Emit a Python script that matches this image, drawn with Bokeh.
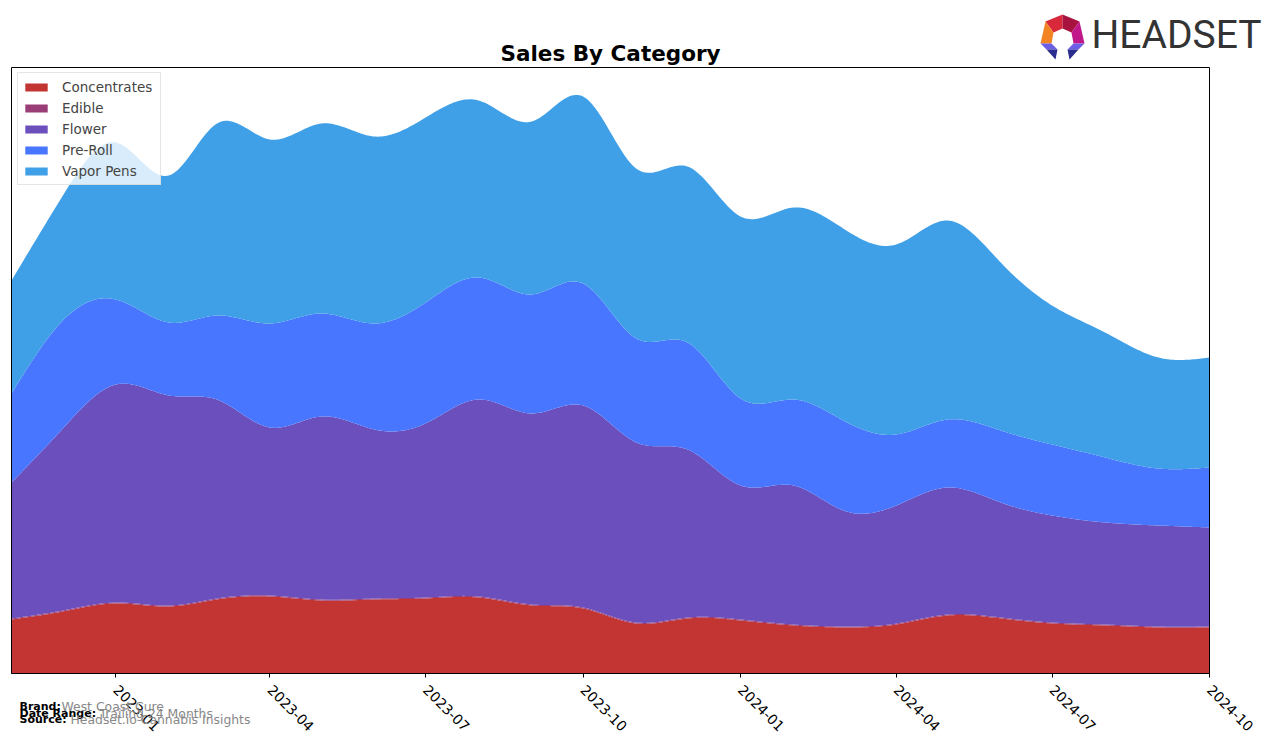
import numpy as np
import pandas as pd
from bokeh.plotting import figure
from bokeh.models import Range1d, Label, PolyAnnotation, FixedTicker, DatetimeTickFormatter, ColumnDataSource
from bokeh.embed import file_html
from bokeh.resources import INLINE

# ---------------- data (monthly, relative sales units) ----------------
months = ["2022-11", "2022-12", "2023-01", "2023-02", "2023-03", "2023-04",
          "2023-05", "2023-06", "2023-07", "2023-08", "2023-09", "2023-10",
          "2023-11", "2023-12", "2024-01", "2024-02", "2024-03", "2024-04",
          "2024-05", "2024-06", "2024-07", "2024-08", "2024-09", "2024-10"]
concentrates = [54, 62, 70, 67, 74, 77, 73, 74, 75, 76, 68, 65,
                50, 55, 53, 48, 46, 49, 58, 55, 50, 48, 46, 46]
edible = [1, 1, 1, 1, 1, 1, 1, 1, 1, 1, 1, 1,
          1, 1, 1, 1, 1, 1, 1, 1, 1, 1, 1, 1]
flower = [136, 182, 218, 210, 199, 168, 183, 169, 174, 197, 191, 202,
          180, 168, 134, 139, 116, 118, 127, 115, 107, 102, 101, 99]
pre_roll = [89, 108, 85, 73, 84, 104, 103, 106, 121, 122, 119, 122,
            104, 107, 87, 86, 90, 71, 68, 72, 71, 65, 57, 60]
vapor_pens = [113, 125, 157, 147, 192, 184, 190, 187, 185, 177, 173, 187,
              170, 176, 182, 192, 192, 190, 199, 168, 139, 125, 111, 110]
categories = ["Concentrates", "Edible", "Flower", "Pre-Roll", "Vapor Pens"]
colors = ["#c23532", "#9a3d77", "#6a4fbd", "#4876fe", "#3fa0e8"]
tick_labels = ["2023-01", "2023-04", "2023-07", "2023-10",
               "2024-01", "2024-04", "2024-07", "2024-10"]

# ---------------- smooth rendering (natural cubic spline) ----------------
dates = pd.to_datetime(months, format="%Y-%m")
xd = np.array([(d - dates[0]).days for d in dates], dtype=float)


def spline(xs, ys, xf):
    ys = np.asarray(ys, dtype=float)
    n = len(xs)
    h = np.diff(xs)
    A = np.zeros((n, n))
    b = np.zeros(n)
    A[0, 0] = 1.0
    A[-1, -1] = 1.0
    for i in range(1, n - 1):
        A[i, i - 1] = h[i - 1]
        A[i, i] = 2 * (h[i - 1] + h[i])
        A[i, i + 1] = h[i]
        b[i] = 3 * ((ys[i + 1] - ys[i]) / h[i] - (ys[i] - ys[i - 1]) / h[i - 1])
    c = np.linalg.solve(A, b)
    out = np.empty_like(xf)
    for k, x in enumerate(xf):
        i = min(max(np.searchsorted(xs, x, side="right") - 1, 0), n - 2)
        dx = x - xs[i]
        bi = (ys[i + 1] - ys[i]) / h[i] - h[i] * (2 * c[i] + c[i + 1]) / 3
        di = (c[i + 1] - c[i]) / (3 * h[i])
        out[k] = ys[i] + bi * dx + c[i] * dx ** 2 + di * dx ** 3
    return np.clip(out, 0, None)


xf = np.linspace(xd[0], xd[-1], 600)
xf_dt = dates[0] + pd.to_timedelta(xf, unit="D")
series = [concentrates, edible, flower, pre_roll, vapor_pens]
smoothed = [spline(xd, s, xf) for s in series]

# ---------------- layout geometry (page pixels) ----------------
W, H = 1272, 740
FL, FR, FT, FB = 11, 1209, 67, 673          # visible chart box
x0_ms = dates[0].value / 1e6
x1_ms = dates[-1].value / 1e6
ms_per_px = (x1_ms - x0_ms) / (FR - FL)


def X(px):
    return x0_ms + (px - FL) * ms_per_px


def Y(py):
    return FB - py


p = figure(width=W, height=H, x_axis_type="datetime", y_axis_location=None,
           output_backend="svg", toolbar_location=None,
           x_range=Range1d(X(0), X(W)), y_range=Range1d(Y(H), Y(0)),
           min_border=0, min_border_left=0, min_border_right=0,
           min_border_top=0, min_border_bottom=0)
p.outline_line_color = None
p.xgrid.visible = False
p.ygrid.visible = False
p.background_fill_color = "white"
p.border_fill_color = "white"

lower = np.zeros_like(xf)
for name, col, sm in zip(categories, colors, smoothed):
    upper = lower + sm
    src = ColumnDataSource(dict(x=xf_dt, y1=lower, y2=upper))
    p.varea(x="x", y1="y1", y2="y2", source=src, fill_color=col, fill_alpha=1.0,
            legend_label=name)
    lower = upper

# chart box
p.quad(left=[x0_ms], right=[x1_ms], bottom=[0], top=[FB - FT],
       fill_color=None, line_color="black", line_width=1)

# x axis drawn at the bottom of the chart box
tick_ms = [pd.Timestamp(t + "-01").value / 1e6 for t in tick_labels]
ax = p.xaxis[0]
ax.fixed_location = 0
ax.bounds = (x0_ms, x1_ms)
ax.ticker = FixedTicker(ticks=tick_ms)
ax.formatter = DatetimeTickFormatter(days="%Y-%m", months="%Y-%m", years="%Y-%m")
ax.major_label_orientation = -np.pi / 4
ax.major_label_text_font = "DejaVu Sans"
ax.major_label_text_font_size = "14px"
ax.major_label_text_color = "black"
ax.major_tick_in = 0
ax.major_tick_out = 4
ax.minor_tick_line_color = None
ax.axis_line_color = "black"
ax.major_label_standoff = 10

# legend
lg = p.legend[0]
lg.location = (17, H - 185)
lg.margin = 0
lg.padding = 4
lg.spacing = 2
lg.label_height = 19
lg.label_width = 94
lg.glyph_height = 10
lg.glyph_width = 28
lg.label_standoff = 12
lg.label_text_font = "DejaVu Sans"
lg.label_text_font_size = "13.5px"
lg.border_line_color = "#cccccc"
lg.background_fill_alpha = 0.8

# title
p.add_layout(Label(x=X(610), y=Y(65), text="Sales By Category", text_align="center",
                   text_baseline="bottom",
                   text_font="DejaVu Sans", text_font_style="bold", text_font_size="21.5px",
                   text_color="black"))

# footer
for txt, xb, yb, xv, val in [("Brand:", 19, 712, 61, "West Coast Cure"),
                             ("Date Range:", 19, 719, 99, "Trailing 24 Months"),
                             ("Source:", 19, 725, 70, "Headset.io Cannabis Insights")]:
    p.add_layout(Label(x=X(xb), y=Y(yb), text=txt, text_font="DejaVu Sans",
                       text_baseline="bottom",
                       text_font_style="bold", text_font_size="11px", text_color="black"))
    p.add_layout(Label(x=X(xv), y=Y(yb + 1), text=val, text_font="DejaVu Sans",
                       text_baseline="bottom",
                       text_font_size="12.4px", text_color="#888888"))

# logo
p.add_layout(Label(x=X(1091), y=Y(57), text="HEADSET", text_font="Roboto",
                   text_baseline="bottom",
                   text_font_size="39px", text_color="#333333"))
logo_polys = [
    ([1045, 1062, 1062, 1053], [21, 14, 28, 32], "#d8283a"),
    ([1062, 1079, 1071, 1062], [14, 21, 32, 28], "#a8123e"),
    ([1045, 1053, 1051, 1040], [21, 32, 43, 43], "#f28424"),
    ([1079, 1084, 1073, 1071], [21, 43, 43, 32], "#c0178a"),
    ([1040, 1051, 1057, 1046], [43, 43, 49, 49], "#6c5fe6"),
    ([1046, 1057, 1055], [49, 49, 59], "#2a2d8e"),
    ([1084, 1073, 1067, 1078], [43, 43, 49, 49], "#6c5fe6"),
    ([1078, 1067, 1069], [49, 49, 59], "#2a2d8e"),
]
for xs, ys, c in logo_polys:
    p.add_layout(PolyAnnotation(xs=[X(v) for v in xs], ys=[Y(v) for v in ys],
                                fill_color=c, fill_alpha=1.0, line_color=None))

open("out.html", "w").write(file_html(p, INLINE))
